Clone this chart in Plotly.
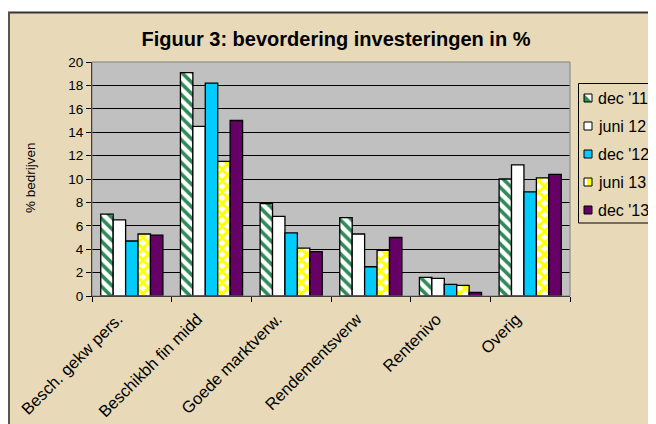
import plotly.graph_objects as go

categories = ["Besch. gekw pers.", "Beschikbh fin midd", "Goede marktverw.", "Rendementsverw", "Rentenivo", "Overig"]
series_names = ["dec '11", "juni 12", "dec '12", "juni 13", "dec '13"]
dec11 = [7.0, 19.1, 7.9, 6.7, 1.6, 10.0]
juni12 = [6.5, 14.5, 6.8, 5.3, 1.5, 11.2]
dec12 = [4.7, 18.2, 5.4, 2.5, 1.0, 8.9]
juni13 = [5.3, 11.5, 4.1, 3.9, 0.9, 10.1]
dec13 = [5.2, 15.0, 3.8, 5.0, 0.3, 10.4]
y_ticks = [0, 2, 4, 6, 8, 10, 12, 14, 16, 18, 20]

series_values = [dec11, juni12, dec12, juni13, dec13]
colors = ["white", "white", "#00ccff", "white", "#660066"]
accent = ["#2e8b57", None, None, "#ffff00", None]
patterns = [
    dict(shape="\\", fgcolor="#2e8b57", bgcolor="white", size=8, solidity=0.45, fillmode="replace"),
    dict(shape=""),
    dict(shape=""),
    dict(shape="x", fgcolor="#ffff00", bgcolor="white", size=8, solidity=0.6, fillmode="replace"),
    dict(shape=""),
]

# window is 656x424, page body has an 8px margin -> figure 648x416
OFF = 8
W, H = 656 - OFF, 424 - OFF
# plot area in window pixels
L, R, T, B = 92, 570, 62, 296
pw, ph = R - L, B - T

def px_x(x):
    return (x - L) / pw

def px_y(y):
    return (B - y) / ph

fig = go.Figure()
for name, vals, col, pat in zip(series_names, series_values, colors, patterns):
    fig.add_trace(go.Bar(
        x=categories, y=vals, name=name, showlegend=False,
        marker=dict(color=col, line=dict(color="black", width=1.3), pattern=pat),
    ))

beige = "#e8dab8"
shapes = [
    dict(type="rect", xref="paper", yref="paper", x0=px_x(0), x1=px_x(700), y0=px_y(12), y1=px_y(0),
         fillcolor="white", line=dict(width=0), layer="above"),
    dict(type="line", xref="paper", yref="paper", x0=px_x(8), x1=px_x(700), y0=px_y(12.5), y1=px_y(12.5),
         line=dict(color="#333333", width=2), layer="above"),
    dict(type="line", xref="paper", yref="paper", x0=px_x(9), x1=px_x(9), y0=px_y(430), y1=px_y(12),
         line=dict(color="#555555", width=2), layer="above"),
    dict(type="rect", xref="paper", yref="paper", x0=0, x1=1, y0=0, y1=1,
         line=dict(color="#808080", width=1), layer="above"),
    # legend box
    dict(type="rect", xref="paper", yref="paper", x0=px_x(578.5), x1=px_x(665), y0=px_y(223), y1=px_y(83.5),
         fillcolor=beige, line=dict(color="black", width=1), layer="above"),
]
annotations = []
row0, row_step = 98, 28
for i, (name, col, acc) in enumerate(zip(series_names, colors, accent)):
    cy = row0 + i * row_step
    x0, x1, y0, y1 = 584, 592, cy - 4, cy + 4
    shapes.append(dict(type="rect", xref="paper", yref="paper",
                       x0=px_x(x0), x1=px_x(x1), y0=px_y(y1), y1=px_y(y0),
                       fillcolor=col, line=dict(width=0), layer="above"))
    if acc is not None and i == 0:
        path = "M {} {} L {} {} L {} {} Z".format(px_x(x0), px_y(y0), px_x(x0), px_y(y1), px_x(x1), px_y(y1))
        shapes.append(dict(type="path", xref="paper", yref="paper", path=path,
                           fillcolor=acc, line=dict(width=0), layer="above"))
    elif acc is not None:
        shapes.append(dict(type="rect", xref="paper", yref="paper",
                           x0=px_x(x0 + 3), x1=px_x(x1), y0=px_y(y1), y1=px_y(y0),
                           fillcolor=acc, line=dict(width=0), layer="above"))
    shapes.append(dict(type="rect", xref="paper", yref="paper",
                       x0=px_x(x0), x1=px_x(x1), y0=px_y(y1), y1=px_y(y0),
                       fillcolor="rgba(0,0,0,0)", line=dict(color="black", width=1), layer="above"))
    annotations.append(dict(xref="paper", yref="paper", x=px_x(596), y=px_y(cy),
                            xanchor="left", yanchor="middle", showarrow=False,
                            text=name, font=dict(size=16)))

# y-axis title as annotation at fixed window position
annotations.append(dict(xref="paper", yref="paper", x=px_x(30), y=px_y(178),
                        xanchor="center", yanchor="middle", showarrow=False,
                        textangle=-90, text="% bedrijven", font=dict(size=13.5)))

fig.update_layout(
    width=W, height=H,
    margin=dict(l=L - OFF, r=W - (R - OFF), t=T - OFF, b=H - (B - OFF), autoexpand=False),
    paper_bgcolor=beige,
    plot_bgcolor="#c0c0c0",
    barmode="group", bargap=0.22, bargroupgap=0,
    font=dict(family="Arial, Liberation Sans, sans-serif", color="black"),
    title=dict(text="<b>Figuur 3: bevordering investeringen in %</b>",
               x=(336 - OFF) / W, xanchor="center", y=1 - (39 - OFF) / H, yanchor="middle",
               font=dict(size=20)),
    showlegend=False,
    xaxis=dict(showline=True, linecolor="black", linewidth=1,
               ticks="outside", tickson="boundaries", ticklen=5,
               tickcolor="black", tickangle=-45, tickfont=dict(size=16.5),
               ticklabelshift=-14, ticklabelstandoff=6,
               mirror=False, automargin=False),
    yaxis=dict(range=[0, 20], tickvals=y_ticks, showgrid=True,
               gridcolor="black", gridwidth=1, showline=True,
               linecolor="black", ticks="outside", ticklen=5,
               tickcolor="black", tickfont=dict(size=13.5), automargin=False,
               zeroline=False),
    shapes=shapes,
    annotations=annotations,
)

fig.write_html("out.html")
